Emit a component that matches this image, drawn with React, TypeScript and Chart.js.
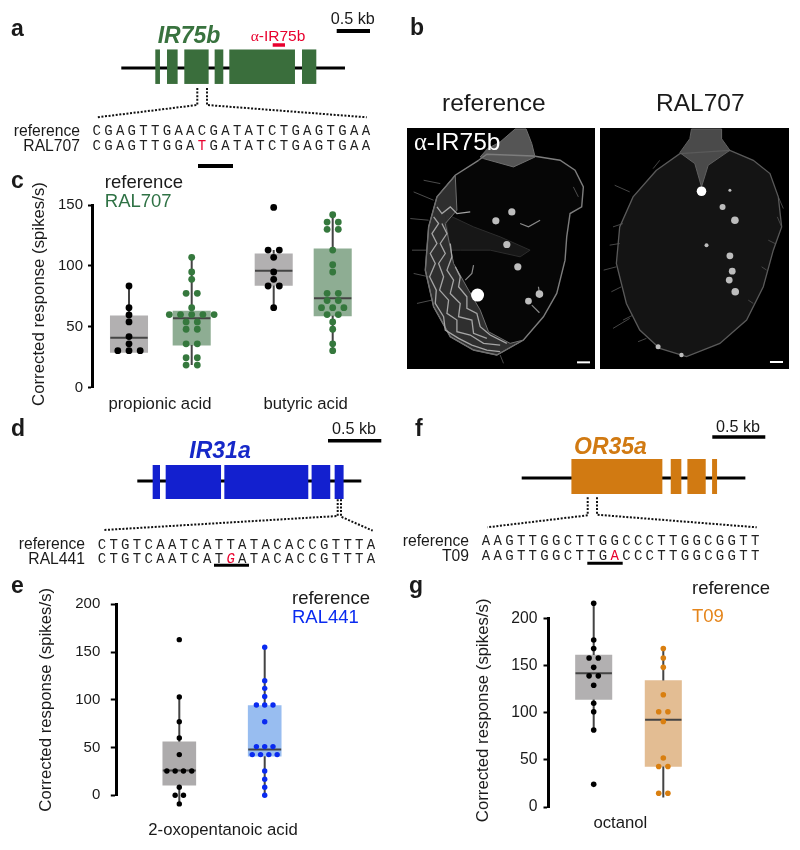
import React, { useEffect, useRef } from "react";
import { Chart, registerables } from "chart.js";

Chart.register(...registerables);

const SANS = '"Liberation Sans", Arial, sans-serif';
Chart.defaults.font.family = SANS;

/* ---------- data: panel c ---------- */
const cLabels = ["propionic acid", "butyric acid"];
const cPropionicRef = [83.5, 65.7, 59.7, 54, 42, 36, 30.4, 30.4, 30.4];
const cPropionicVar = [107, 95, 89, 77.5, 77.5, 65.7, 60, 60, 60, 60, 60, 54, 54, 48, 48, 36, 36, 24.6, 24.6, 18.6, 18.6];
const cButyricRef = [148, 113, 113, 107, 95, 89, 83.5, 83.5, 65.7];
const cButyricVar = [142, 136, 136, 130, 130, 113, 101, 95, 77.5, 77.5, 71.5, 71.5, 65.7, 65.7, 65.7, 60, 60, 54, 48, 36, 30.4];
const cBoxLow = [29, 35, 84, 59];
const cBoxMedian = [41, 57, 96, 73.5];
const cBoxHigh = [59, 63, 110, 114];
const cWhiskerLow = [29, 18.6, 65.7, 30.4];
const cWhiskerHigh = [83.5, 107, 113, 142];

/* ---------- data: panel e ---------- */
const eLabels = ["2-oxopentanoic acid"];
const eRef = [163, 103, 77, 60, 42.6, 25.5, 25.5, 25.5, 25.5, 8.4, 0, 0, -9];
const eVar = [155, 120, 112, 103.5, 94.5, 94.5, 94.5, 77, 51, 51, 51, 42.6, 42.6, 42.6, 42.6, 25.5, 16.8, 8.4, 0];
const eBoxLow = [10.5, 41];
const eBoxMedian = [26, 48];
const eBoxHigh = [56, 94];
const eWhiskerLow = [-9, 0];
const eWhiskerHigh = [103, 155];

/* ---------- data: panel g ---------- */
const gLabels = ["octanol"];
const gRef = [216, 177, 168, 158, 158, 148, 139, 139, 129, 110, 101, 81.6, 24];
const gVar = [168, 158, 148, 119, 101, 101, 90.6, 52, 43, 43, 14.5, 14.5];
const gBoxLow = [114, 43];
const gBoxMedian = [141.7, 92.5];
const gBoxHigh = [161, 134];
const gWhiskerLow = [81.6, 10];
const gWhiskerHigh = [216, 168];

/* ---------- data: gene models, in kb from the start of each locus ---------- */
const ir75bExons = [[0.51, 0.58], [0.685, 0.845], [0.945, 1.31], [1.4, 1.53], [1.62, 2.605], [2.71, 2.925]];
const ir75bLength = 3.355;
const ir31aExons = [[0.144, 0.213], [0.266, 0.785], [0.816, 1.603], [1.634, 1.809], [1.85, 1.934]];
const ir31aLength = 2.1;
const or35aExons = [[0.469, 1.327], [1.406, 1.506], [1.563, 1.736], [1.796, 1.843]];
const or35aLength = 2.11;

/* ---------- sequences ---------- */
const seqIr75bRef = "CGAGTTGAACGATATCTGAGTGAA";
const seqIr75bVar = "CGAGTTGGATGATATCTGAGTGAA";
const seqIr31aRef = "CTGTCAATCATTATACACCGTTTA";
const seqIr31aVar = "CTGTCAATCATGATACACCGTTTA";
const seqOr35aRef = "AAGTTGGCTTGGCCCTTGGCGGTT";
const seqOr35aVar = "AAGTTGGCTTGACCCTTGGCGGTT";

/* ---------- micrograph sketches, in image units ---------- */
const refOutline = [[235,450],[260,432],[400,437],[480,450],[525,480],[550,530],[545,590],[510,610],[500,680],[495,750],[470,850],[430,920],[370,990],[290,1035],[220,1020],[150,980],[100,890],[75,780],[85,650],[110,560],[165,495],[235,450]];
const refStalk = [[240,440],[262,415],[300,395],[345,356],[378,356],[395,400],[405,440],[340,470],[250,445],[240,440]];
const refBand = [[165,495],[110,560],[85,650],[75,780],[100,890],[150,980],[220,1020],[290,1035],[370,990],[330,1000],[265,965],[240,900],[205,840],[160,760],[135,640],[170,600],[165,495]];
const refLobe = [[135,610],[220,650],[300,680],[390,720],[360,740],[270,720],[180,720],[150,720],[135,610]];
const refRow1 = [[100,620],[115,640],[95,670],[110,700],[90,730],[105,760],[88,800],[108,840],[105,880],[130,920],[135,960],[175,985],[215,1005],[260,1020],[300,1025]];
const refRow2 = [[125,640],[140,670],[120,700],[135,730],[115,760],[130,800],[118,840],[145,870],[140,910],[170,930],[170,965],[210,975],[250,1000],[300,1005]];
const refRow3 = [[150,700],[155,740],[140,780],[160,810],[150,850],[180,880],[175,920],[215,930],[220,970],[260,985]];
const refRow4 = [[165,770],[180,800],[175,830],[200,860],[200,895],[230,910],[240,950],[270,975],[320,1000]];
const refRow5 = [[110,590],[125,610],[150,590],[170,610],[210,605]];
const refBristles = [[[120,520],[70,510]],[[100,570],[40,545]],[[85,630],[30,625]],[[80,720],[35,720]],[[85,800],[40,790]],[[95,870],[50,880]],[[520,530],[535,560]],[[300,1035],[310,1060]]];
const refSpots = [[335,605,3.6],[287,632,3.6],[320,703,3.6],[353,770,3.6],[232,855,6.5],[418,852,3.8],[385,873,3.4]];
const refWisps = [[[220,765],[215,790],[195,810]],[[360,640],[385,650],[420,630]],[[415,830],[418,850]],[[395,885],[418,908]]];
const varOutline = [[770,480],[840,430],[990,420],[1060,450],[1110,490],[1135,560],[1145,650],[1120,720],[1090,830],[1040,930],[960,1000],[860,1040],[780,1015],[720,960],[680,880],[650,760],[660,650],[700,560],[770,480]];
const varStalk = [[840,427],[870,385],[875,356],[965,356],[965,385],[990,420],[925,465],[905,530],[885,460],[840,427]];
const varBristles = [[[690,545],[645,525]],[[650,770],[612,780]],[[690,925],[640,955]],[[1135,560],[1150,595]],[[1145,650],[1132,620]],[[760,475],[780,450]],[[670,640],[640,650]],[[660,700],[630,705]],[[1125,700],[1105,690]],[[665,830],[635,845]],[[700,915],[670,930]],[[740,985],[715,995]],[[1100,780],[1085,770]],[[1060,880],[1045,870]]];
const varSpots = [[905,543,4.8],[990,540,1.5],[968,590,3],[1005,630,3.8],[990,737,3.4],[997,783,3.4],[988,810,3.4],[1006,845,3.8],[775,1010,2.5],[845,1035,2.2],[920,705,2]];

/* ---------- layout and style (page pixels) ---------- */
const INK = "#1a1a1a";
const GREEN = "#3A6E3C";
const BLUE = "#1320CF";
const ORANGE = "#D17A12";
const RED = "#E8002D";

type Pt = { x: number; y: number | null };

function line(data: Pt[], color: string, width: number, dash?: number[]) {
  return {
    type: "line",
    data,
    borderColor: color,
    backgroundColor: color,
    borderWidth: width,
    borderDash: dash || [],
    borderCapStyle: "butt",
    pointRadius: 0,
    tension: 0,
    fill: false,
    clip: false,
    spanGaps: false,
  };
}

function dodge(values: number[], center: number, step: number): Pt[] {
  const counts: Record<string, number> = {};
  values.forEach((v) => (counts[v] = (counts[v] || 0) + 1));
  const seen: Record<string, number> = {};
  return values.map((v) => {
    const i = seen[v] || 0;
    seen[v] = i + 1;
    return { x: center + (i - (counts[v] - 1) / 2) * step, y: v };
  });
}

function geneDatasets(exons: number[][], length: number, origin: number, pxPerKb: number, lineY: number, exonY: number, exonH: number, color: string) {
  const px = (kb: number) => origin + kb * pxPerKb;
  const out: any[] = exons.map(([a, b]) => line([{ x: px(a), y: exonY }, { x: px(b), y: exonY }], color, exonH));
  out.push(line([{ x: px(0), y: lineY }, { x: px(length), y: lineY }], "#000", 3));
  return out;
}

function zoomLines(segs: number[][][], color: string, width: number) {
  return segs.map((s) => line(s.map(([x, y]) => ({ x, y })), color, width));
}

function area(pts: number[][], fill: string, edge: string, edgeWidth: number) {
  return { ...line(pts.map(([x, y]) => ({ x, y })), edge, edgeWidth), polygonFill: fill };
}

/* lets outliers beyond the axis range be drawn, as in the reference */
const overdraw = {
  id: "overdraw",
  beforeDatasetsDraw(c: any) {
    c.$savedArea = c.chartArea;
    c.chartArea = { left: 0, top: 0, right: c.width, bottom: c.height, width: c.width, height: c.height };
  },
  afterDatasetsDraw(c: any) {
    c.chartArea = c.$savedArea;
  },
};

/* fills the closed outlines of the micrograph sketches through the scales */
const polygons = {
  id: "polygons",
  beforeDatasetsDraw(c: any) {
    const { ctx, scales } = c;
    [...c.data.datasets].reverse().forEach((d: any) => {
      if (!d.polygonFill) return;
      ctx.save();
      ctx.fillStyle = d.polygonFill;
      ctx.beginPath();
      d.data.forEach((p: any, i: number) => {
        const x = scales.x.getPixelForValue(p.x);
        const y = scales.y.getPixelForValue(p.y);
        if (i) ctx.lineTo(x, y);
        else ctx.moveTo(x, y);
      });
      ctx.closePath();
      ctx.fill();
      ctx.restore();
    });
  },
};

function Canvas({ left, top, width, height, bg, blur, build }: any) {
  const ref = useRef<HTMLCanvasElement>(null);
  useEffect(() => {
    const chart = new Chart(ref.current as any, build());
    return () => chart.destroy();
  }, []);
  return (
    <canvas
      ref={ref}
      width={width}
      height={height}
      style={{ position: "absolute", left, top, width, height, background: bg || "transparent", display: "block", filter: blur ? `blur(${blur}px)` : "none" }}
    />
  );
}

const noPlugins = { legend: { display: false }, tooltip: { enabled: false }, title: { display: false } };

function plainConfig(datasets: any[], xMin: number, xMax: number, yTop: number, yBottom: number) {
  return {
    type: "line",
    data: { datasets },
    plugins: [polygons],
    options: {
      animation: false,
      responsive: false,
      devicePixelRatio: 1,
      events: [],
      plugins: noPlugins,
      layout: { padding: 0, autoPadding: false },
      scales: {
        x: { type: "linear", display: false, min: xMin, max: xMax },
        y: { type: "linear", display: false, min: yTop, max: yBottom, reverse: true },
      },
    },
  };
}

function schematicConfig() {
  const ds: any[] = [
    ...geneDatasets(ir75bExons, ir75bLength, 121.3, 66.67, 68, 66.7, 34.5, GREEN),
    ...geneDatasets(ir31aExons, ir31aLength, 137.3, 106.67, 481, 482, 34, BLUE),
    ...geneDatasets(or35aExons, or35aLength, 521.7, 106, 478, 476.5, 35, ORANGE),
    // scale bars and motif bars
    line([{ x: 336.7, y: 31 }, { x: 370, y: 31 }], "#000", 4),
    line([{ x: 328, y: 440.7 }, { x: 381.3, y: 440.7 }], "#000", 3.5),
    line([{ x: 712.3, y: 437 }, { x: 765.3, y: 437 }], "#000", 3.5),
    line([{ x: 272.7, y: 45 }, { x: 285, y: 45 }], RED, 3.5),
    line([{ x: 198, y: 166 }, { x: 233, y: 166 }], "#000", 4),
    line([{ x: 214, y: 565.3 }, { x: 249, y: 565.3 }], "#000", 3),
    line([{ x: 587.3, y: 563.3 }, { x: 622.7, y: 563.3 }], "#000", 3),
  ];
  const dotted = [
    [[197.3, 88], [197.3, 105], [97.3, 117.3]],
    [[207, 88], [207, 105], [366.7, 117.3]],
    [[337.7, 499.3], [337.7, 516], [104, 530]],
    [[341, 499.3], [341, 516.7], [372.7, 530.7]],
    [[587.7, 497.3], [587.7, 515.3], [487.3, 527.3]],
    [[597, 497.3], [597, 514.7], [756.7, 527.3]],
  ];
  dotted.forEach((s) => ds.push(line(s.map(([x, y]) => ({ x, y })), "#111", 2, [2, 1.6])));
  return plainConfig(ds, 0, 800, 0, 850);
}

function spotDataset(spots: number[][]) {
  return {
    type: "scatter",
    data: spots.map(([x, y]) => ({ x, y })),
    pointRadius: spots.map((s) => s[2]),
    pointBackgroundColor: spots.map((s) => (s[2] >= 4.5 ? "#ffffff" : "#bdbdbd")),
    pointBorderWidth: 0,
    clip: false,
  };
}

function refImageConfig() {
  const ds: any[] = [
    spotDataset(refSpots),
    line([{ x: 531, y: 1057 }, { x: 570, y: 1057 }], "#fff", 2),
    ...zoomLines(refWisps, "#8a8a8a", 1.2),
    ...zoomLines([refRow1, refRow2, refRow3, refRow4, refRow5], "#a5a5a5", 1.3),
    area(refBand, "#2f2f2f", "#6f6f6f", 1),
    area(refLobe, "#171717", "#2c2c2c", 1),
    area(refStalk, "#555555", "#6f6f6f", 1),
    area(refOutline, "#060606", "#7d7d7d", 1.4),
    ...zoomLines(refBristles, "#4c4c4c", 1),
  ];
  return plainConfig(ds, 20, 585, 353, 1077);
}

function varImageConfig() {
  const ds: any[] = [
    spotDataset(varSpots),
    line([{ x: 1110, y: 1056 }, { x: 1149, y: 1056 }], "#fff", 2),
    area(varStalk, "#4a4a4a", "#606060", 1),
    area(varOutline, "#141414", "#5a5a5a", 1.3),
    ...zoomLines(varBristles, "#474747", 1),
  ];
  return plainConfig(ds, 601, 1167, 353, 1077);
}

function boxConfig(p: any) {
  const ds: any[] = [];
  p.groups.forEach((g: any, i: number) => {
    ds.push({ ...spotDots(g, p), order: 0 });
    ds.push({ ...line([{ x: g.x - p.half, y: p.med[i] }, { x: g.x + p.half, y: p.med[i] }], "#444", 2), order: 1 });
    ds.push({
      ...line(
        [
          { x: g.x, y: p.wHigh[i] },
          { x: g.x, y: p.high[i] },
          { x: g.x, y: null },
          { x: g.x, y: p.low[i] },
          { x: g.x, y: p.wLow[i] },
        ],
        "#444",
        2
      ),
      order: 2,
    });
  });
  ds.push({
    type: "bar",
    data: p.groups.map((g: any, i: number) => ({ x: g.x, y: [p.low[i], p.high[i]] })),
    backgroundColor: p.groups.map((g: any) => g.box),
    barThickness: p.half * 2,
    grouped: false,
    order: 3,
  });
  return {
    type: "bar",
    data: { datasets: ds },
    plugins: [overdraw],
    options: {
      animation: false,
      responsive: false,
      devicePixelRatio: 1,
      events: [],
      plugins: noPlugins,
      layout: { padding: { left: 0, right: 0, top: p.yTop - p.top, bottom: 0 }, autoPadding: false },
      scales: {
        x: {
          type: "linear",
          offset: false,
          min: p.axisX,
          max: p.left + p.width,
          border: { display: false },
          grid: { display: false, drawTicks: false },
          afterBuildTicks: (s: any) => {
            s.ticks = p.labelX.map((v: number) => ({ value: v }));
          },
          afterFit: (s: any) => {
            s.height = p.top + p.height - p.yBottom;
          },
          ticks: {
            autoSkip: false,
            maxRotation: 0,
            minRotation: 0,
            padding: p.labelPad,
            color: INK,
            font: { size: 16.7 },
            callback: (_v: any, i: number) => p.labels[i],
          },
        },
        y: {
          type: "linear",
          min: 0,
          max: p.max,
          border: { display: true, color: "#000", width: 3 },
          grid: { drawOnChartArea: false, drawTicks: true, tickLength: p.tick, tickColor: "#000", tickWidth: 2 },
          afterFit: (s: any) => {
            s.width = p.axisX - p.left;
          },
          ticks: { stepSize: 50, padding: p.tickPad, color: INK, font: { size: p.tickSize } },
          title: {
            display: true,
            text: "\u00A0".repeat(p.titleNudge) + "Corrected response (spikes/s)",
            color: INK,
            font: { size: 16.8 },
            padding: { top: p.titleX - p.left - 10, bottom: 0 },
          },
        },
      },
    },
  };
}

function spotDots(g: any, p: any) {
  return {
    type: "scatter",
    data: dodge(g.values, g.x, p.step),
    pointRadius: p.dot,
    pointBackgroundColor: g.dot,
    pointBorderWidth: 0,
    showLine: false,
    clip: false,
  };
}

const panelC = {
  left: 0, top: 170, width: 400, height: 245, axisX: 92, yTop: 205, yBottom: 387.7, max: 150,
  half: 18.7, step: 11.2, dot: 3.4, tick: 4, tickPad: 5, tickSize: 15, titleX: 39, labelPad: 7, titleNudge: 1,
  labels: cLabels, labelX: [160, 305.7],
  low: cBoxLow, med: cBoxMedian, high: cBoxHigh, wLow: cWhiskerLow, wHigh: cWhiskerHigh,
  groups: [
    { x: 129, values: cPropionicRef, dot: "#000", box: "#B2B0B1" },
    { x: 191.7, values: cPropionicVar, dot: "#35783D", box: "#8EAD93" },
    { x: 273.7, values: cButyricRef, dot: "#000", box: "#B2B0B1" },
    { x: 332.7, values: cButyricVar, dot: "#35783D", box: "#8EAD93" },
  ],
};

const panelE = {
  left: 0, top: 575, width: 400, height: 270, axisX: 116.3, yTop: 604.3, yBottom: 795.3, max: 200,
  half: 16.5, step: 8.3, dot: 2.7, tick: 5.5, tickPad: 10.5, tickSize: 15, titleX: 46.7, labelPad: 25, titleNudge: 0,
  labels: eLabels, labelX: [223],
  low: eBoxLow, med: eBoxMedian, high: eBoxHigh, wLow: eWhiskerLow, wHigh: eWhiskerHigh,
  groups: [
    { x: 179.3, values: eRef, dot: "#000", box: "#ADABAC" },
    { x: 264.7, values: eVar, dot: "#0A2BF0", box: "#98BDF0" },
  ],
};

const panelG = {
  left: 400, top: 590, width: 400, height: 255, axisX: 548, yTop: 618.3, yBottom: 807, max: 200,
  half: 18.2, step: 9.2, dot: 2.8, tick: 4.5, tickPad: 6, tickSize: 15.7, titleX: 483, labelPad: 6.5, titleNudge: 1,
  labels: gLabels, labelX: [620.3],
  low: gBoxLow, med: gBoxMedian, high: gBoxHigh, wLow: gWhiskerLow, wHigh: gWhiskerHigh,
  groups: [
    { x: 593.7, values: gRef, dot: "#000", box: "#B2B0B1" },
    { x: 663.3, values: gVar, dot: "#D97F10", box: "#E3BD93" },
  ],
};

function T({ x, y, size, color, right, bold, italic, mono, children }: any) {
  const style: any = {
    position: "absolute",
    top: y,
    transform: "translateY(-50%)",
    whiteSpace: "nowrap",
    fontSize: size,
    color: color || INK,
    fontWeight: bold ? 700 : 400,
    fontStyle: italic ? "italic" : "normal",
    fontFamily: mono ? '"Liberation Mono", monospace' : SANS,
    letterSpacing: mono ? 3.3 : 0,
    lineHeight: 1.15,
  };
  if (right) style.right = 800 - x;
  else style.left = x;
  return <div style={style}>{children}</div>;
}

function Seq({ x, y, text, mark, italic }: any) {
  return (
    <T x={x} y={y} size={14} mono color="#222">
      {text.slice(0, mark ?? text.length)}
      {mark != null ? <span style={{ color: RED, fontStyle: italic ? "italic" : "normal" }}>{text[mark]}</span> : null}
      {mark != null ? text.slice(mark + 1) : null}
    </T>
  );
}

const Alpha = () => <span style={{ fontFamily: '"Liberation Serif", serif' }}>α</span>;

export default function App() {
  return (
    <div style={{ position: "absolute", left: 0, top: 0, width: 800, height: 850, background: "#fff", overflow: "hidden", fontFamily: SANS }}>
      <Canvas left={0} top={0} width={800} height={850} build={schematicConfig} />
      <Canvas left={407} top={128} width={188} height={241} bg="#000" blur={0.5} build={refImageConfig} />
      <Canvas left={600} top={128} width={189} height={241} bg="#000" blur={0.5} build={varImageConfig} />
      <Canvas left={panelC.left} top={panelC.top} width={panelC.width} height={panelC.height} build={() => boxConfig(panelC)} />
      <Canvas left={panelE.left} top={panelE.top} width={panelE.width} height={panelE.height} build={() => boxConfig(panelE)} />
      <Canvas left={panelG.left} top={panelG.top} width={panelG.width} height={panelG.height} build={() => boxConfig(panelG)} />

      <T x={11} y={28} size={23} bold>a</T>
      <T x={410} y={27} size={23} bold>b</T>
      <T x={11} y={180} size={23} bold>c</T>
      <T x={11} y={428} size={23} bold>d</T>
      <T x={11} y={585} size={23} bold>e</T>
      <T x={415} y={428} size={23} bold>f</T>
      <T x={409} y={585} size={23} bold>g</T>

      <T x={157.7} y={35} size={23} bold italic color="#39733F">IR75b</T>
      <T x={250.7} y={35.7} size={15.5} color={RED}><Alpha />-IR75b</T>
      <T x={330.7} y={18.3} size={16.2}>0.5 kb</T>
      <T x={80} y={130.5} size={15.7} right>reference</T>
      <T x={80} y={145.5} size={15.7} right>RAL707</T>
      <Seq x={92.5} y={130.7} text={seqIr75bRef} />
      <Seq x={92.5} y={145.7} text={seqIr75bVar} mark={9} />

      <T x={104.8} y={181.5} size={18.5}>reference</T>
      <T x={104.8} y={200.5} size={18.5} color="#2F7245">RAL707</T>

      <T x={442} y={103} size={24.5}>reference</T>
      <T x={656} y={103} size={24.5}>RAL707</T>
      <T x={414} y={142} size={24.5} color="#fff"><Alpha />-IR75b</T>

      <T x={189.3} y={450} size={23} bold italic color="#1628C8">IR31a</T>
      <T x={332} y={428.3} size={16.2}>0.5 kb</T>
      <T x={85} y={544} size={15.7} right>reference</T>
      <T x={85} y={559} size={15.7} right>RAL441</T>
      <Seq x={97.7} y={544.7} text={seqIr31aRef} />
      <Seq x={97.7} y={559} text={seqIr31aVar} mark={11} italic />

      <T x={574} y={446} size={23} bold italic color={ORANGE}>OR35a</T>
      <T x={716} y={425.7} size={16.2}>0.5 kb</T>
      <T x={469} y={541} size={15.7} right>reference</T>
      <T x={469} y={555.7} size={15.7} right>T09</T>
      <Seq x={481.8} y={541.3} text={seqOr35aRef} />
      <Seq x={481.8} y={555.7} text={seqOr35aVar} mark={11} />

      <T x={292} y={597.7} size={18.5}>reference</T>
      <T x={292} y={617} size={18.5} color="#0A2BF0">RAL441</T>

      <T x={692} y={588} size={18.5}>reference</T>
      <T x={692} y={615.7} size={18.5} color="#E5851B">T09</T>
    </div>
  );
}
